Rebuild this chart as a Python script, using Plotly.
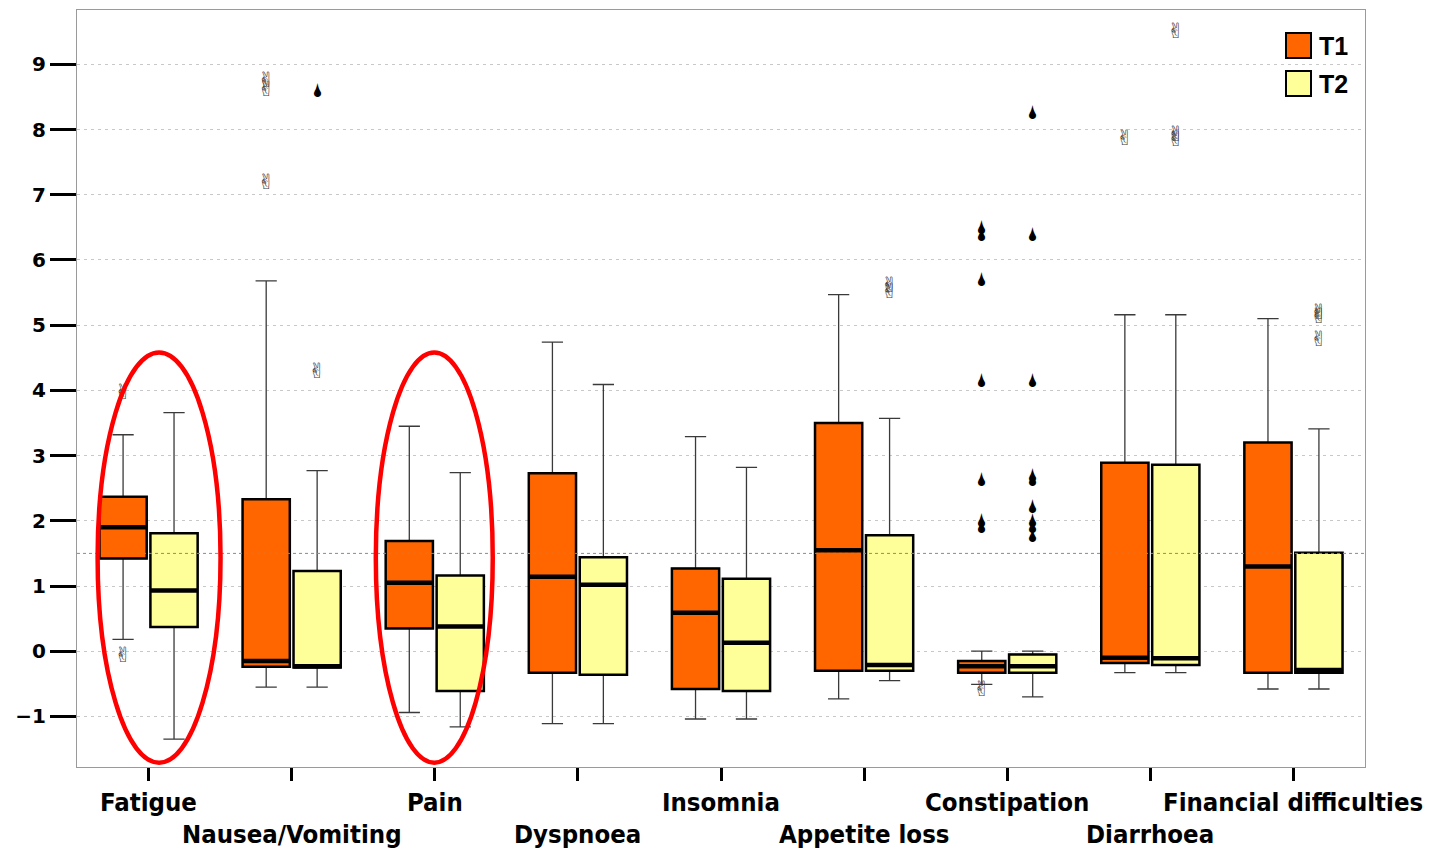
import plotly.graph_objects as go

# Symptom scales (EORTC QLQ-C30 style) compared at two time points
categories = ["Fatigue", "Nausea/Vomiting", "Pain", "Dyspnoea", "Insomnia",
              "Appetite loss", "Constipation", "Diarrhoea", "Financial difficulties"]
series_names = ["T1", "T2"]
series_colors = ["#FF6600", "#FFFF99"]

# Box statistics per time point (whisker low, Q1, median, Q3, whisker high)
t1_low = [0.18, -0.55, -0.94, -1.11, -1.04, -0.73, -0.51, -0.33, -0.58]
t1_q1 = [1.42, -0.24, 0.35, -0.33, -0.58, -0.30, -0.33, -0.18, -0.33]
t1_med = [1.90, -0.15, 1.05, 1.14, 0.59, 1.55, -0.23, -0.10, 1.30]
t1_q3 = [2.37, 2.33, 1.69, 2.73, 1.27, 3.50, -0.15, 2.89, 3.20]
t1_high = [3.32, 5.68, 3.45, 4.74, 3.29, 5.47, 0.00, 5.16, 5.10]

t2_low = [-1.35, -0.55, -1.16, -1.11, -1.04, -0.45, -0.70, -0.33, -0.58]
t2_q1 = [0.37, -0.25, -0.61, -0.36, -0.61, -0.30, -0.33, -0.21, -0.33]
t2_med = [0.93, -0.23, 0.38, 1.02, 0.13, -0.21, -0.23, -0.11, -0.29]
t2_q3 = [1.81, 1.23, 1.16, 1.44, 1.11, 1.78, -0.05, 2.86, 1.51]
t2_high = [3.66, 2.77, 2.74, 4.09, 2.82, 3.57, 0.00, 5.16, 3.41]

# Outlying cases (category, value): mild outliers and extreme values
t1_outliers = [("Fatigue", 3.95), ("Fatigue", -0.09), ("Nausea/Vomiting", 8.73),
               ("Nausea/Vomiting", 8.60), ("Nausea/Vomiting", 7.17),
               ("Constipation", -0.60), ("Diarrhoea", 7.84)]
t1_extremes = [("Constipation", 6.47), ("Constipation", 6.37), ("Constipation", 5.67),
               ("Constipation", 4.13), ("Constipation", 2.60), ("Constipation", 1.98),
               ("Constipation", 1.88)]
t2_outliers = [("Nausea/Vomiting", 4.27), ("Appetite loss", 5.59), ("Appetite loss", 5.50),
               ("Diarrhoea", 9.49), ("Diarrhoea", 7.90), ("Diarrhoea", 7.83),
               ("Financial difficulties", 5.18), ("Financial difficulties", 5.12),
               ("Financial difficulties", 4.76)]
t2_extremes = [("Nausea/Vomiting", 8.58), ("Constipation", 8.24), ("Constipation", 6.37),
               ("Constipation", 4.13), ("Constipation", 2.67), ("Constipation", 2.60),
               ("Constipation", 2.20), ("Constipation", 1.98), ("Constipation", 1.88),
               ("Constipation", 1.75)]

y_ticks = list(range(-1, 10))
reference_level = 1.5
highlighted = ["Fatigue", "Pain"]

OUTLIER_GLYPH = "\u270C\uFE0E"   # victory hand, text presentation
EXTREME_GLYPH = "\U0001F322"     # black droplet

BOX_OFFSET = 0.178
BOX_WIDTH = 0.33
idx = {c: i for i, c in enumerate(categories)}

groups = [
    (t1_low, t1_q1, t1_med, t1_q3, t1_high, t1_outliers, t1_extremes, -BOX_OFFSET),
    (t2_low, t2_q1, t2_med, t2_q3, t2_high, t2_outliers, t2_extremes, BOX_OFFSET),
]

fig = go.Figure()
for (low, q1, med, q3, high, outl, extr, off), name, color in zip(groups, series_names, series_colors):
    pos = [i + off for i in range(len(categories))]
    # whiskers with caps (thin)
    fig.add_trace(go.Box(x=pos, q1=q1, median=med, q3=q3, lowerfence=low, upperfence=high,
                         width=BOX_WIDTH, whiskerwidth=0.45, fillcolor=color,
                         line=dict(color="#3a3a3a", width=1.3), boxpoints=False,
                         name=name, showlegend=False, hoverinfo="skip"))
    # box body with heavier outline
    fig.add_trace(go.Box(x=pos, q1=q1, median=med, q3=q3, lowerfence=q1, upperfence=q3,
                         width=BOX_WIDTH, whiskerwidth=0, fillcolor=color,
                         line=dict(color="black", width=2.5), boxpoints=False,
                         name=name, showlegend=False))
    # heavy median bar
    fig.add_trace(go.Box(x=pos, q1=med, median=med, q3=med, lowerfence=med, upperfence=med,
                         width=BOX_WIDTH, whiskerwidth=0, fillcolor="rgba(0,0,0,0)",
                         line=dict(color="black", width=4.5), boxpoints=False,
                         name=name, showlegend=False, hoverinfo="skip"))
    # outliers
    fig.add_trace(go.Scatter(x=[idx[c] + off for c, _ in outl], y=[v for _, v in outl],
                             mode="text", text=[OUTLIER_GLYPH] * len(outl),
                             textposition="middle center",
                             textfont=dict(family="DejaVu Sans", size=21, color="#3c3c3c"),
                             showlegend=False, hoverinfo="y"))
    # extreme values
    fig.add_trace(go.Scatter(x=[idx[c] + off for c, _ in extr], y=[v for _, v in extr],
                             mode="text", text=[EXTREME_GLYPH] * len(extr),
                             textposition="middle center",
                             textfont=dict(family="DejaVu Sans", size=19, color="black"),
                             showlegend=False, hoverinfo="y"))

shapes = []
# dotted reference line
shapes.append(dict(type="line", xref="paper", x0=0, x1=1, yref="y",
                   y0=reference_level, y1=reference_level, layer="above",
                   line=dict(color="#8a8a8a", width=1, dash="dot")))
# red ellipses around highlighted symptoms
ellipse_span = {"Fatigue": (-0.356, 0.503), "Pain": (-0.412, 0.405)}
for c in highlighted:
    a, b = ellipse_span[c]
    shapes.append(dict(type="circle", xref="x", yref="y", x0=idx[c] + a, x1=idx[c] + b,
                       y0=-1.71, y1=4.58, layer="above",
                       line=dict(color="#FF0000", width=4.5)))

# legend swatches
PW, PH = 1288.0, 757.0
def px_x(px):
    return (px - 77) / PW
def px_y(py):
    return 1 - (py - 10) / PH

annotations = []
for k, (name, color) in enumerate(zip(series_names, series_colors)):
    top = 33 + k * 38
    shapes.append(dict(type="rect", xref="paper", yref="paper",
                       x0=px_x(1286), x1=px_x(1311), y0=px_y(top + 25), y1=px_y(top),
                       fillcolor=color, line=dict(color="black", width=2)))
    annotations.append(dict(xref="paper", yref="paper", x=px_x(1317), y=px_y(top + 12.5),
                            xanchor="left", yanchor="middle", showarrow=False, text=name,
                            font=dict(family="Liberation Sans", size=25, color="black",
                                      weight="bold")))

# category labels on two staggered rows
for i, c in enumerate(categories):
    annotations.append(dict(xref="x", yref="paper", x=i, y=0, xanchor="center",
                            yanchor="middle", yshift=-35 if i % 2 == 0 else -67,
                            showarrow=False, text=c,
                            font=dict(family="DejaVu Sans Condensed", size=25.5,
                                      color="black", weight="bold")))

fig.update_layout(
    width=1438, height=850,
    margin=dict(l=77, r=73, t=10, b=83),
    paper_bgcolor="white", plot_bgcolor="white",
    boxmode="overlay",
    showlegend=False,
    shapes=shapes, annotations=annotations,
    xaxis=dict(range=[-0.5, 8.5], tickvals=list(range(len(categories))),
               ticktext=[""] * len(categories), ticks="outside", ticklen=13,
               tickwidth=3, tickcolor="black", showgrid=False, zeroline=False,
               showline=True, linecolor="#9a9a9a", linewidth=1, mirror=True),
    yaxis=dict(range=[-1.776, 9.834], tickvals=y_ticks, ticks="outside", ticklen=26,
               tickwidth=3, tickcolor="black", showgrid=True, gridcolor="#c8c8c8",
               griddash="3px,4px", gridwidth=1, zeroline=False,
               showline=True, linecolor="#9a9a9a", linewidth=1, mirror=True,
               tickfont=dict(family="DejaVu Sans", size=20, color="black", weight="bold")),
)

fig.write_html("out.html")
